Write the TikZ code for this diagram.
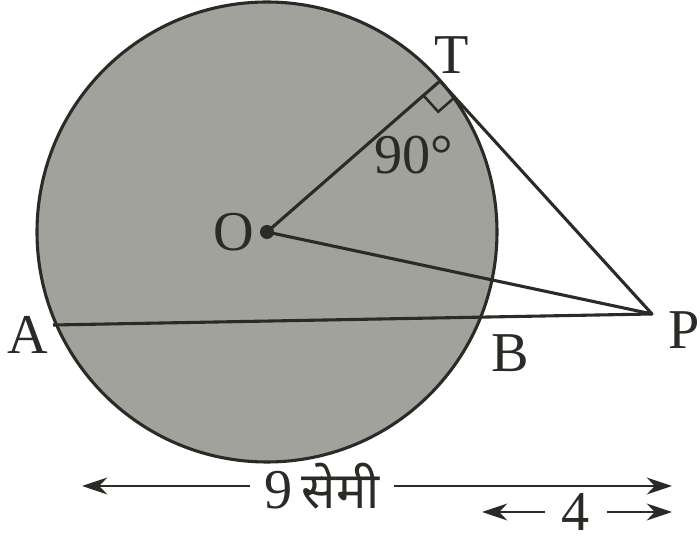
\documentclass[tikz,border=0pt]{standalone}
\usepackage{fontspec}
\setmainfont{Liberation Serif}
\newfontfamily\hindifont[Script=Devanagari]{Noto Sans}
\usetikzlibrary{arrows.meta, calc}
\definecolor{discgray}{HTML}{A2A29C}
\definecolor{inkline}{HTML}{2A2A26}

\begin{document}
\begin{tikzpicture}[
    x=0.025cm, y=-0.025cm,
    geo/.style={draw=inkline, line width=2.2pt, line join=round},
    lbl/.style={font=\fontsize{40}{44}\selectfont, text=inkline, inner sep=0pt},
    dimarrow/.style={draw=inkline, line width=1.8pt, -{Stealth[length=18pt, width=12pt]}},
]
    \useasboundingbox (0,0) rectangle (700,543);

    % Points
    \coordinate (O) at (267,232);
    \coordinate (T) at (440,81);
    \coordinate (P) at (652,314);
    \coordinate (A) at (53,325);
    \coordinate (B) at (482,318);

    % Circle
    \fill[discgray] (O) circle (230);
    \draw[geo] (O) circle (230);

    % Lines
    \draw[geo] (O) -- (T) -- (P) -- cycle;
    \draw[geo] (A) -- (P);
    \fill[inkline] (O) circle (7);

    % Right angle at T
    \coordinate (TO) at ($(T)!0.55cm!(O)$);
    \coordinate (TP) at ($(T)!0.55cm!(P)$);
    \draw[draw=inkline, line width=1.8pt] (TO) -- ($(TO)+(TP)-(T)$) -- (TP);

    % Labels
    \node[lbl] (Tlbl) at (452,55) {T};
    \node[lbl] (Olbl) at (234,232) {O};
    \node[lbl] (Albl) at (28,335) {A};
    \node[lbl] (Blbl) at (510,353) {B};
    \node[lbl] (Plbl) at (684,330) {P};
    \node[lbl] (ang) at (414,155) {90\textdegree};

    % Measurements
    \coordinate (d9l) at (82,486);
    \coordinate (d9r) at (672,486);
    \node[lbl, inner xsep=10pt] (d9) at (322,486) {9\,{\hindifont\fontsize{36}{40}\selectfont सेमी}};
    \draw[dimarrow] (d9) -- (d9l);
    \draw[dimarrow] (d9) -- (d9r);

    \coordinate (d4l) at (482,512);
    \coordinate (d4r) at (672,512);
    \node[lbl, inner xsep=12pt] (d4) at (576,512) {4};
    \draw[dimarrow] (d4) -- (d4l);
    \draw[dimarrow] (d4) -- (d4r);
\end{tikzpicture}
\end{document}
